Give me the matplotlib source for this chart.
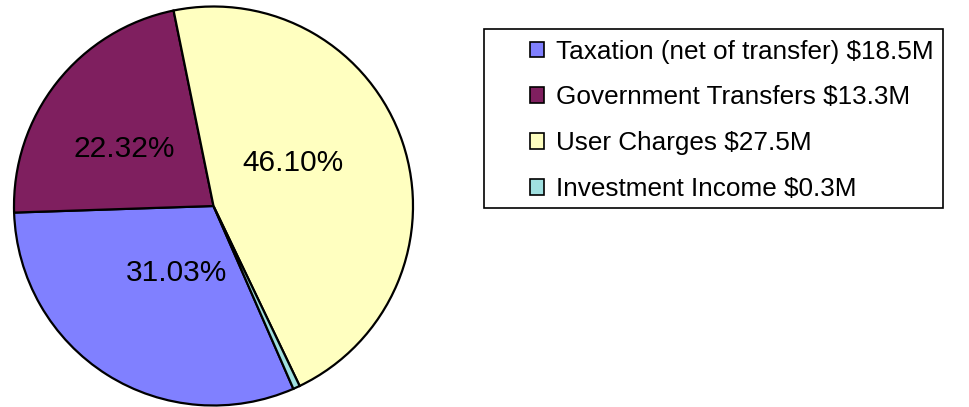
import matplotlib.pyplot as plt
from matplotlib.patches import Rectangle

plt.rcParams['font.family'] = ['Liberation Sans', 'DejaVu Sans']

# Revenue shares
categories = ['Taxation (net of transfer) $18.5M', 'Government Transfers $13.3M',
              'User Charges $27.5M', 'Investment Income $0.3M']
shares = [31.03, 22.32, 46.10, 0.55]
colors = ['#8080FF', '#7F1F5F', '#FFFFC0', '#A0E0E0']

# label positions in pixel coordinates (x from left, y from top)
label_pos = [(177, 273), (124, 149), (293, 163), None]

W, H = 969, 407
fig = plt.figure(figsize=(W / 100, H / 100), dpi=100)
ax = fig.add_axes([0, 0, 1, 1])

cx, cy, r = 213.5, H - 206, 199.5
wedges, _ = ax.pie(shares, colors=colors, startangle=-66.4, counterclock=False,
                   center=(cx, cy), radius=r, frame=True,
                   wedgeprops=dict(edgecolor='black', linewidth=1.6))
ax.set_xlim(0, W)
ax.set_ylim(0, H)
ax.set_aspect('equal')
ax.axis('off')

for val, pos in zip(shares, label_pos):
    if pos is None:
        continue
    ax.text(pos[0], H - pos[1], f'{val:.2f}%', fontsize=21.5,
            ha='center', va='center')

# legend box
ax.add_patch(Rectangle((484, H - 208), 943 - 484, 208 - 29, fill=False,
                       edgecolor='black', linewidth=1.2))
leg = ax.legend(wedges, categories, loc='upper left', frameon=False,
                bbox_to_anchor=(530 / W, 1 - 39.5 / H), fontsize=18.8,
                handlelength=0.53, handleheight=0.53, handletextpad=0.45,
                labelspacing=0.84, borderpad=0, borderaxespad=0)
for h in leg.legend_handles:
    h.set_linewidth(1.2)

fig.savefig('out.png', dpi=100)
